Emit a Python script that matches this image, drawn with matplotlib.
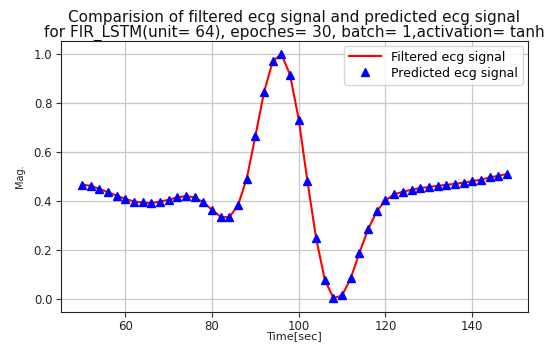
import matplotlib
matplotlib.use("Agg")
import matplotlib.pyplot as plt
import numpy as np

time = list(range(50, 150, 2))
filtered = [0.468, 0.463, 0.451, 0.437, 0.423, 0.410, 0.399, 0.395, 0.392, 0.399,
            0.406, 0.416, 0.421, 0.416, 0.396, 0.365, 0.336, 0.335, 0.384, 0.492,
            0.665, 0.845, 0.970, 1.000, 0.915, 0.733, 0.482, 0.250, 0.080, 0.005,
            0.016, 0.087, 0.190, 0.287, 0.359, 0.404, 0.428, 0.439, 0.447, 0.454,
            0.458, 0.463, 0.467, 0.471, 0.476, 0.482, 0.488, 0.497, 0.504, 0.511]
predicted = list(filtered)

title = ("Comparision of filtered ecg signal and predicted ecg signal\n"
         "for FIR_LSTM(unit= 64), epoches= 30, batch= 1,activation= tanh")

fig = plt.figure(figsize=(5.56, 3.44), dpi=100)
ax = fig.add_axes([0.109, 0.094, 0.841, 0.788])
ax.plot(time, filtered, color="red", lw=1.5, label="Filtered ecg signal", zorder=2)
ax.plot(time, predicted, "^", color="blue", ms=5.5, ls="none",
        label="Predicted ecg signal", zorder=3)
ax.set_ylim(-0.05, 1.055)
ax.set_xticks([60, 80, 100, 120, 140])
ax.set_yticks([0.0, 0.2, 0.4, 0.6, 0.8, 1.0])
ax.tick_params(labelsize=8.5, pad=2.5, colors="#333333", labelcolor="#222222")
for s in ax.spines.values():
    s.set_color("#222222")
ax.grid(True, color="#c8c8c8", lw=0.9)
ax.set_axisbelow(True)
ax.set_xlabel("Time[sec]", fontsize=8.2, color="#222222", va="center")
ax.xaxis.set_label_coords(0.5, -(336.5 - 311.7) / 271.0)
ax.set_ylabel("Mag.", fontsize=7, labelpad=6, color="#222222")
ax.set_title(title, fontsize=11, pad=3, linespacing=0.95, color="#111111")
ax.legend(loc="upper right", fontsize=9, borderaxespad=0.4, handlelength=2.6,
          labelspacing=0.25)
fig.savefig("out.png", dpi=100)
